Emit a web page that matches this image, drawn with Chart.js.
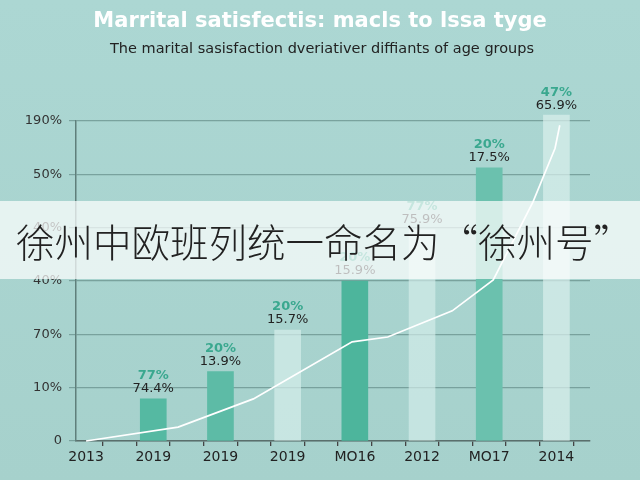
<!DOCTYPE html>
<html>
<head>
<meta charset="utf-8">
<script src="https://cdn.jsdelivr.net/npm/chart.js@4.4.0/dist/chart.umd.min.js"></script>
<style>
  html, body { margin: 0; padding: 0; background: #a9d4cf; }
  #chart { display: block; }
</style>
</head>
<body>
<canvas id="chart" width="640" height="480"></canvas>
<script>
// values (y in grid steps, labels as printed)
const xLabels = ['2013', '2019', '2019', '2019', 'MO16', '2012', 'MO17', '2014'];
const yLabels = ['0', '10%', '70%', '40%', '40%', '50%', '190%'];
const barPos = [1, 2, 3, 4, 5, 6, 7];
const barValues = [0.79, 1.30, 2.08, 3.0, 3.96, 5.12, 6.11];
const topLabels = ['77%', '20%', '20%', '20%', '77%', '20%', '47%'];
const valueLabels = ['74.4%', '13.9%', '15.7%', '15.9%', '75.9%', '17.5%', '65.9%'];
const lineX = [0, 1.37, 2.49, 3.96, 4.49, 5.45, 6.06, 6.65, 6.98, 7.05];
const lineY = [0, 0.26, 0.79, 1.86, 1.95, 2.44, 3.02, 4.48, 5.49, 5.92];

const barColors = ['#55b9a2', '#5dbba6', 'rgba(214,238,235,0.7)', '#4db59c',
                   'rgba(214,238,235,0.65)', '#6bc1ae', 'rgba(218,240,237,0.7)'];

const title = 'Marrital satisfectis: macls to lssa tyge';
const subtitle = 'The marital sasisfaction dveriativer diffiants of age groups';
const banner = '徐州中欧班列统一命名为“徐州号”';

const ctx = document.querySelector('#chart').getContext('2d');

const backdrop = {
  id: 'backdrop',
  beforeDraw(chart) {
    const c = chart.ctx;
    const g = c.createLinearGradient(0, 0, 0, chart.height);
    g.addColorStop(0, '#acd7d3');
    g.addColorStop(1, '#a6d1cc');
    c.save();
    c.fillStyle = g;
    c.fillRect(0, 0, chart.width, chart.height);

    // headings
    c.textAlign = 'center';
    c.textBaseline = 'middle';
    c.fillStyle = '#ffffff';
    let size = 24;
    c.font = 'bold ' + size + 'px "DejaVu Sans"';
    while (c.measureText(title).width > 458 && size > 10) {
      size -= 0.5;
      c.font = 'bold ' + size + 'px "DejaVu Sans"';
    }
    c.fillText(title, 320, 22);
    c.fillStyle = '#222';
    size = 17;
    c.font = size + 'px "DejaVu Sans"';
    while (c.measureText(subtitle).width > 432 && size > 8) {
      size -= 0.5;
      c.font = size + 'px "DejaVu Sans"';
    }
    c.fillText(subtitle, 322, 49);
    c.restore();
  }
};

const barText = {
  id: 'barText',
  afterDatasetsDraw(chart) {
    const c = chart.ctx;
    const meta = chart.getDatasetMeta(1);
    c.save();
    c.textAlign = 'center';
    c.textBaseline = 'middle';
    meta.data.forEach((el, i) => {
      c.fillStyle = '#3aa88f';
      c.font = 'bold 13px "DejaVu Sans"';
      c.fillText(topLabels[i], el.x, el.y - 23);
      c.fillStyle = '#222';
      c.font = '13px "DejaVu Sans"';
      c.fillText(valueLabels[i], el.x, el.y - 10);
    });
    c.restore();
  }
};

const overlay = {
  id: 'overlay',
  afterDraw(chart) {
    const c = chart.ctx;
    c.save();
    c.fillStyle = 'rgba(255,255,255,0.71)';
    c.fillRect(0, 201, chart.width, 78);
    c.fillStyle = '#222';
    c.textAlign = 'left';
    c.textBaseline = 'middle';
    c.font = '300 38.5px "Noto Sans CJK SC"';
    c.fillText(banner, 16, 242);
    c.restore();
  }
};

new Chart(ctx, {
  data: {
    datasets: [
      {
        type: 'line',
        data: lineX.map((x, i) => ({ x: x, y: lineY[i] })),
        borderColor: '#ffffff',
        borderWidth: 1.7,
        pointRadius: 0,
        tension: 0,
        order: 1,
        clip: false
      },
      {
        type: 'bar',
        data: barPos.map((x, i) => ({ x: x, y: barValues[i] })),
        backgroundColor: barColors,
        borderWidth: 0,
        barThickness: 26,
        order: 2,
        clip: false
      }
    ]
  },
  options: {
    responsive: false,
    animation: false,
    layout: { padding: { top: 121, right: 50, left: 0, bottom: 0 } },
    plugins: {
      legend: { display: false },
      tooltip: { enabled: false }
    },
    scales: {
      x: {
        type: 'linear',
        offset: false,
        min: -0.15,
        max: 7.5,
        afterFit(scale) { scale.height = 39; },
        afterBuildTicks(scale) {
          // a tick every half step, labels only on whole steps
          const t = [];
          for (let i = 0; i <= 15; i++) t.push({ value: i / 2 });
          scale.ticks = t;
        },
        ticks: {
          autoSkip: false,
          maxRotation: 0,
          padding: 3,
          color: '#222',
          font: { family: 'DejaVu Sans', size: 14 },
          callback: v => Number.isInteger(v) ? xLabels[v] : ''
        },
        grid: { drawOnChartArea: false, tickLength: 5, color: '#444', lineWidth: 1.3 },
        border: { color: '#5a6f6c', width: 1.5 }
      },
      y: {
        type: 'linear',
        min: 0,
        max: 6,
        afterFit(scale) { scale.width = 76; },
        ticks: {
          stepSize: 1,
          padding: 7,
          color: '#333',
          font: { family: 'DejaVu Sans', size: 13 },
          callback: v => Number.isInteger(v) ? yLabels[v] : ''
        },
        grid: { color: 'rgba(95,135,130,0.65)', lineWidth: 1.2, tickLength: 7 },
        border: { color: '#5f7f7b', width: 1.5 }
      }
    }
  },
  plugins: [backdrop, barText, overlay]
});
</script>
</body>
</html>
